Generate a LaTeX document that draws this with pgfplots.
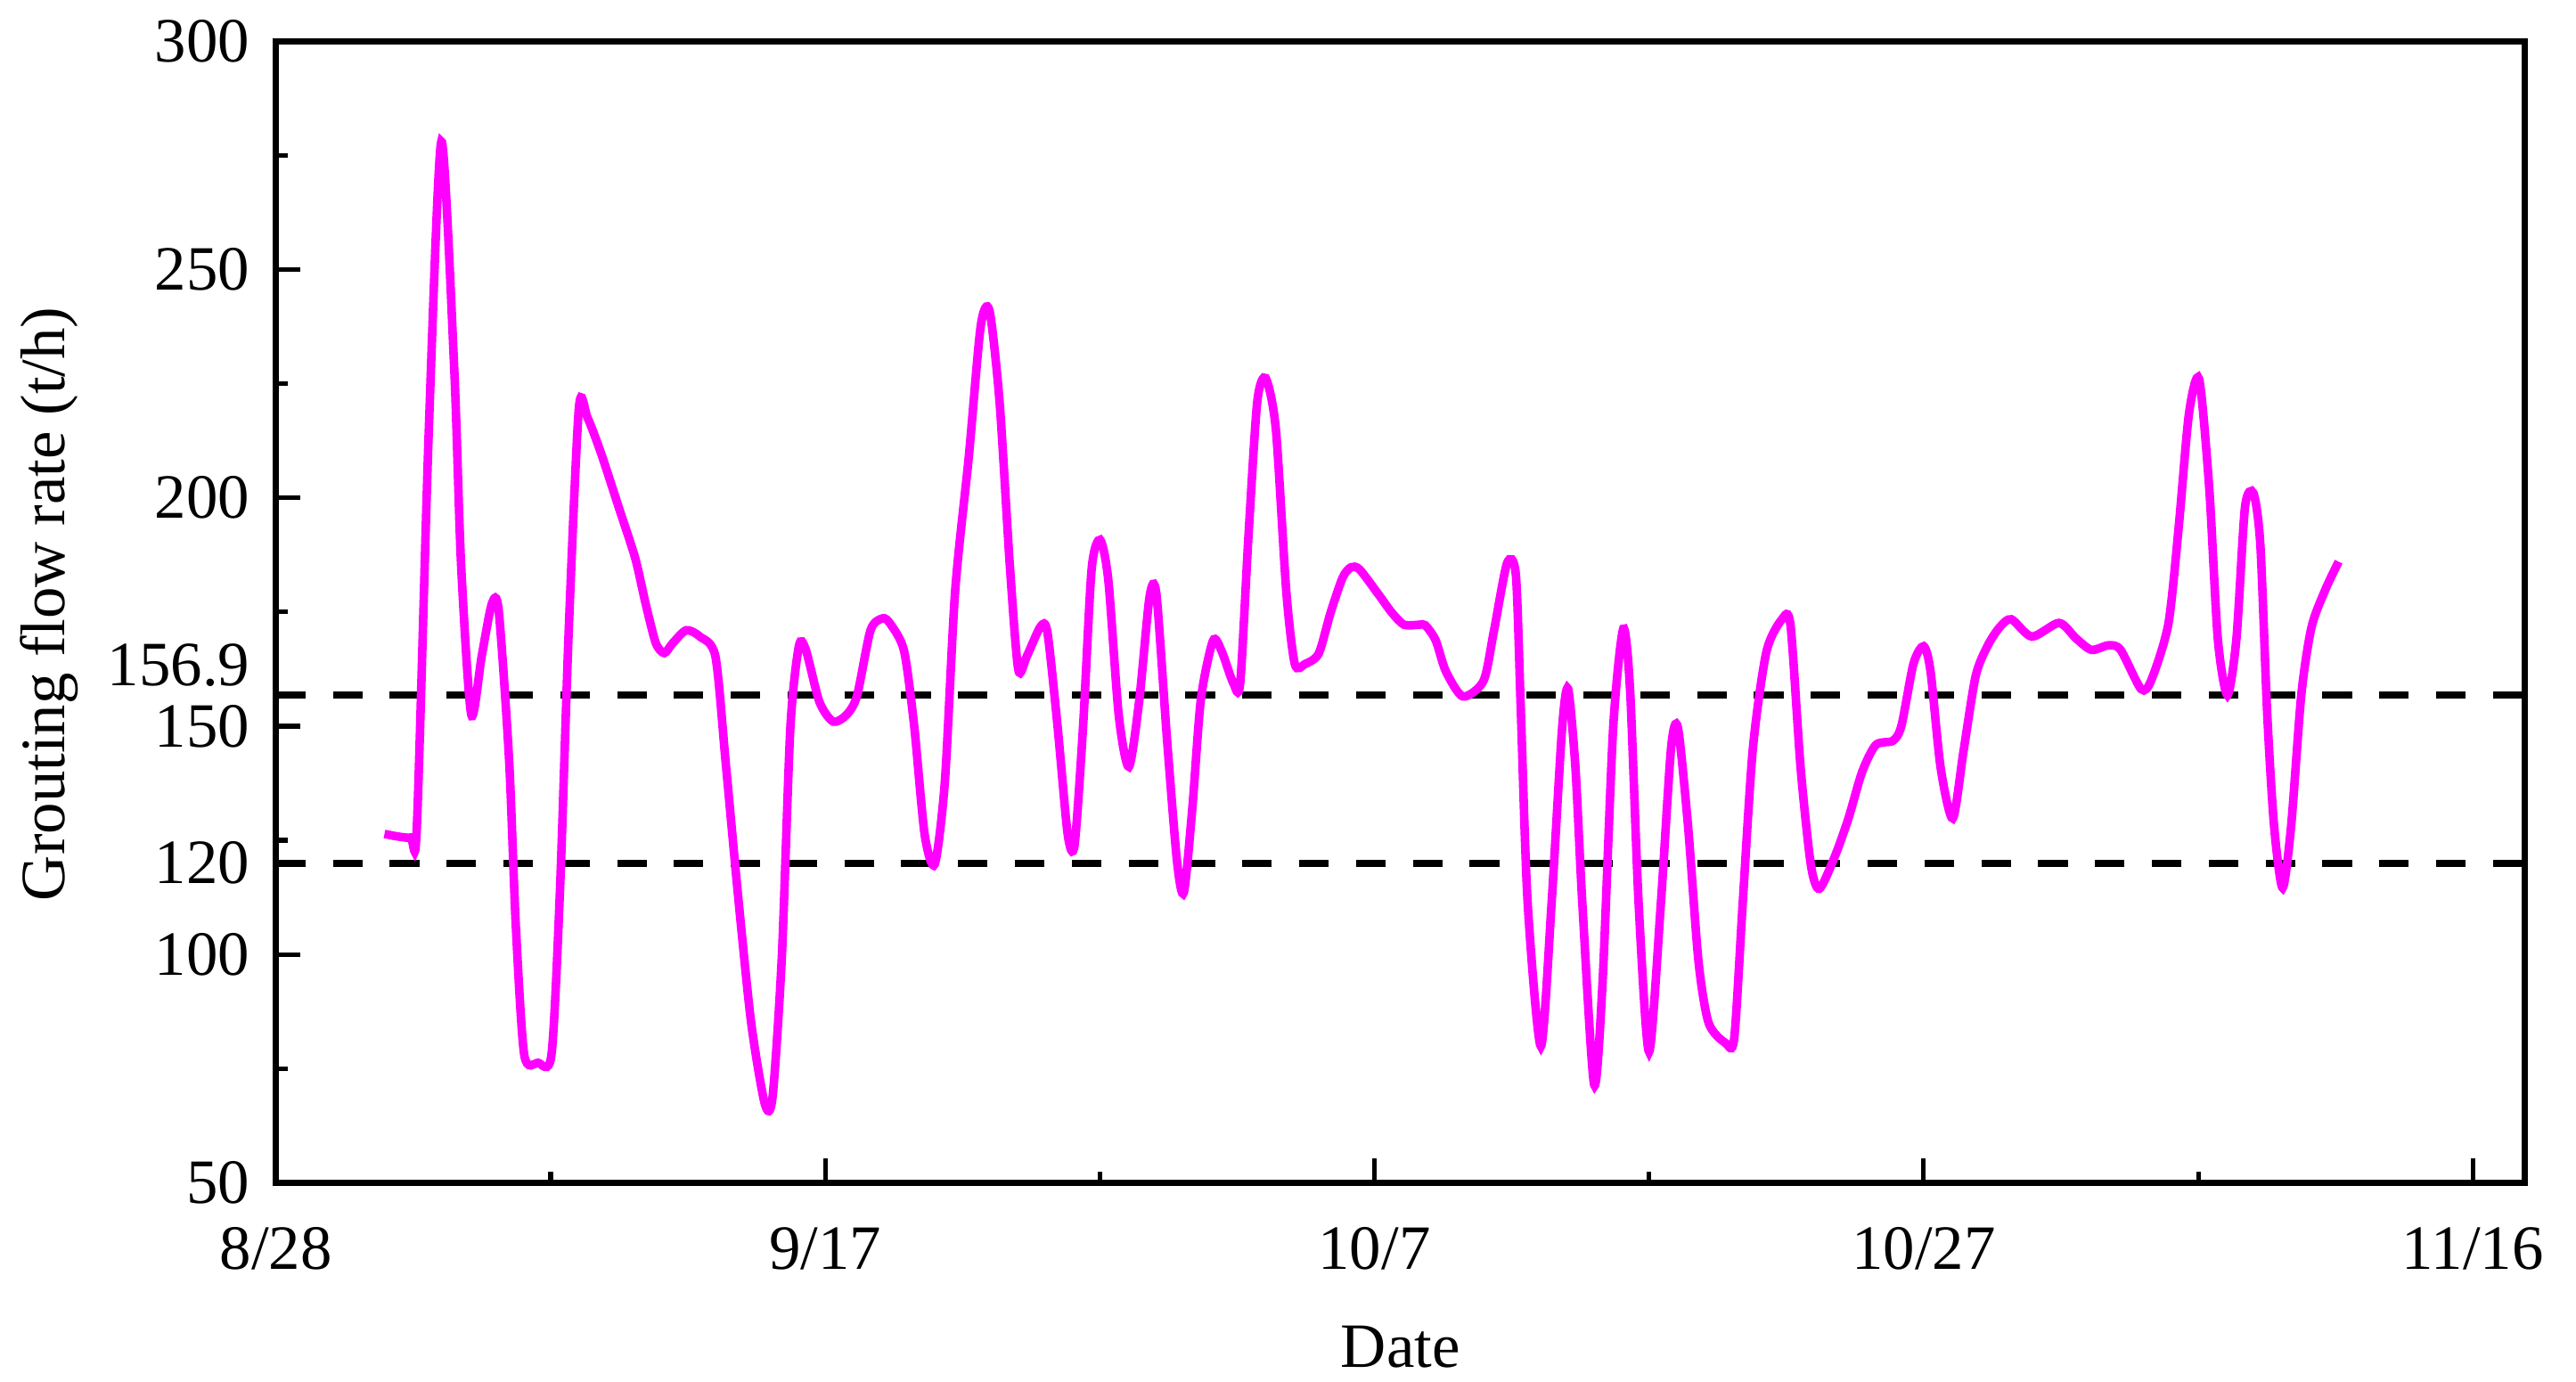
\documentclass[border=0pt]{standalone}
\usepackage{fontspec}
\setmainfont{Liberation Serif}
\usepackage{pgfplots}
\pgfplotsset{compat=1.18}
\begin{document}
\begin{tikzpicture}
\begin{axis}[
  scale only axis,
  width=684.5pt, height=347.5pt,
  xmin=0, xmax=81.9, ymin=50, ymax=300,
  font=\fontsize{19.2}{23}\selectfont,
  /pgf/number format/assume math mode=true,
  xtick={0,20,40,60,80},
  xticklabels={8/28,9/17,10/7,10/27,11/16},
  minor xtick={10,30,50,70},
  ytick={50,100,120,150,200,250,300},
  minor ytick={75,125,175,225,275},
  extra y ticks={156.9},
  extra y tick labels={156.9},
  extra y tick style={major tick length=0pt, yticklabel style={yshift=9pt}},
  tick pos=left,
  tick align=inside,
  major tick length=7.5pt,
  minor tick length=3.5pt,
  every tick/.style={black, line width=1.4pt},
  axis line style={line width=1.9pt},
  xticklabel style={yshift=-10pt},
  yticklabel style={xshift=-4.5pt},
  xlabel={Date},
  ylabel={Grouting flow rate (t/h)},
  x label style={at={(axis description cs:0.5,-0.1439)},anchor=center},
  y label style={at={(axis description cs:-0.1008,0.507)},anchor=center},
  clip=true,
]
\addplot[black, line width=2.2pt, dash pattern=on 9pt off 8.3pt] coordinates {(0,156.9) (81.9,156.9)};
\addplot[black, line width=2.2pt, dash pattern=on 9pt off 8.3pt] coordinates {(0,120) (81.9,120)};
\addplot[color={rgb,255:red,255;green,0;blue,255}, line width=2.6pt, smooth, tension=0.45] coordinates {
(3.95,126.4) (4.88,125.6) (5.13,128.1) (5.56,214) (6.02,278.0) (6.49,228.3) (6.74,185.4)
(7.11,152.5) (7.49,165.3) (7.86,176.8) (8.11,175.3) (8.49,142.4) (8.73,106.7) (9.04,78)
(9.54,76.3) (10.03,78) (10.34,113.9) (10.66,171) (11.03,219.7) (11.34,217.6) (11.84,209.7)
(12.46,198.3) (13.08,186.8) (13.46,176.8) (13.83,168.2) (14.14,166) (14.45,168.2) (14.94,171)
(15.44,169.6) (16.0,165.3) (16.37,142.4) (16.81,113.9) (17.3,85.2) (17.8,67.3) (18.08,68.7)
(18.42,99.5) (18.73,149.6) (19.04,167.5) (19.29,166.8) (19.79,155.3) (20.29,151) (20.78,152.5)
(21.16,156.7) (21.65,171) (22.09,173.6) (22.37,172.4) (22.87,166.5) (23.24,150) (23.62,126.3)
(23.99,119.8) (24.36,138.1) (24.73,179.5) (25.23,209.1) (25.66,237.5) (25.98,241) (26.35,220.9)
(26.72,185.4) (27.03,162.4) (27.34,165.3) (27.84,171.8) (28.09,170.6) (28.46,150) (28.83,126.3)
(29.08,124) (29.39,150) (29.7,184.3) (30.01,190.8) (30.31,181.9) (30.69,152.3) (31.06,141.1)
(31.44,155.9) (31.81,178.3) (32.06,178.9) (32.44,147.6) (32.81,120.4) (33.06,113.6) (33.37,132.2)
(33.68,155.9) (34.12,168.7) (34.43,166.5) (34.86,159.4) (35.11,159.4) (35.41,191.4) (35.73,220.9)
(36.04,226.2) (36.41,215) (36.79,179.5) (37.1,163.6) (37.47,163.6) (37.97,165.9) (38.4,174.8)
(38.84,182.5) (39.15,184.8) (39.46,184.3) (40.14,178.9) (40.64,174.8) (41.08,172.2) (41.63,172.2)
(41.85,172.1) (42.23,168.8) (42.6,162) (43.22,156.5) (43.97,159.9) (44.34,170.5) (44.83,185.7)
(45.15,183.1) (45.33,153.5) (45.58,111.2) (46.06,79.9) (46.45,111.2) (46.83,149.3) (47.05,158.2)
(47.32,140.8) (47.57,111.2) (48.0,71.5) (48.31,94.3) (48.69,149.3) (49.06,171.3) (49.31,157.8)
(49.62,111.2) (50.0,78.7) (50.43,111.2) (50.8,145.1) (51.05,149.7) (51.42,128.1) (51.8,98.5)
(52.17,85) (52.79,80.6) (53.1,81.6) (53.41,111.2) (53.78,145.1) (54.27,166.2) (54.84,173.4)
(55.15,172.1) (55.52,140.8) (55.89,119.7) (56.2,114.4) (56.76,121.4) (57.26,129.8) (57.76,140)
(58.26,145.9) (58.88,146.8) (59.19,150.1) (59.63,163.7) (60.0,167.5) (60.25,162) (60.62,140.8)
(61.06,129.8) (61.45,144.5) (61.89,160.9) (62.32,167.5) (62.76,171.6) (63.19,173.4) (63.94,169.6)
(64.93,172.6) (65.55,169.2) (66.11,166.7) (66.73,167.7) (67.17,166.7) (67.92,158.1) (68.29,160.1)
(68.91,172.4) (69.29,193.8) (69.66,218.4) (70.03,226) (70.4,202) (70.71,169.2) (71.06,156.8)
(71.39,169.2) (71.7,197.9) (72.01,201) (72.26,189.7) (72.51,152.7) (72.76,128.1) (73.07,114.6)
(73.38,128.1) (73.75,156.8) (74.12,171.6) (74.62,179.8) (75.11,186)
};
\end{axis}
\path ([xshift=-84pt,yshift=-60.5pt]current axis.south west) rectangle ([xshift=15.5pt,yshift=12.5pt]current axis.north east);
\end{tikzpicture}
\end{document}
